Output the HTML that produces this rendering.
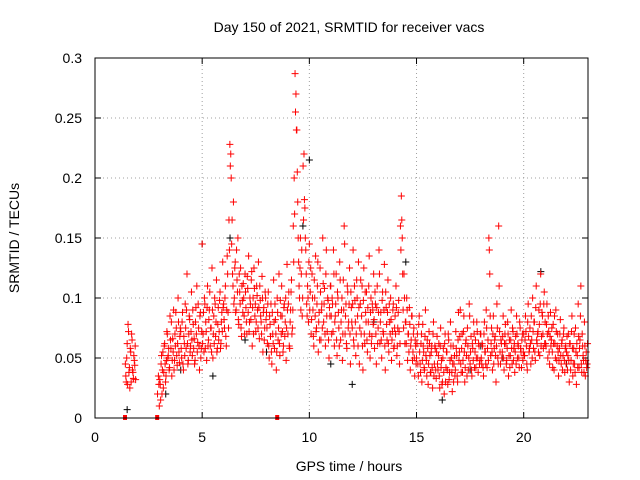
<!DOCTYPE html>
<html><head><meta charset="utf-8"><style>
body{margin:0;background:#fff}
svg{display:block;font-family:"Liberation Sans",sans-serif}
</style></head><body>
<svg id="chart" width="640" height="480" xmlns="http://www.w3.org/2000/svg">
<text x="349" y="32" text-anchor="middle" font-size="14">Day 150 of 2021, SRMTID for receiver vacs</text>
<text x="349" y="471" text-anchor="middle" font-size="14">GPS time / hours</text>
<text x="0" y="0" transform="translate(19,238) rotate(-90)" text-anchor="middle" font-size="14">SRMTID / TECUs</text>
<g id="grid"></g>
<g id="axes"></g>
<g id="marks"></g>
<rect x="95" y="58" width="493" height="360" fill="none" stroke="#000" stroke-width="1"/>
</svg>
<script>
const xTicks=[0,5,10,15,20];
const yTicks=[0,0.05,0.1,0.15,0.2,0.25,0.3];
const yTickLabels=["0","0.05","0.1","0.15","0.2","0.25","0.3"];
const samplesPerHour=24;
// red series A: SRMTID in milli-TECU, one row per hour, sampled every 2.5 min
const redRows={
1:[null,null,null,null,null,null,null,null,null,null,45,30,62,78,38,25,55,70,40,33,48,60,null,null],
2:[null,null,null,null,null,null,null,null,null,null,null,null,null,null,null,null,null,null,null,null,null,null,20,35],
3:[10,28,45,20,55,38,62,30,48,70,52,40,85,58,35,66,90,48,60,75,44,100,55,68],
4:[72,50,88,40,62,95,58,120,45,70,82,60,105,52,78,66,48,92,110,63,75,40,88,58],
5:[145,70,55,95,80,48,110,65,90,60,75,125,50,85,100,68,115,58,92,72,105,62,88,130],
6:[95,75,110,60,135,88,165,228,220,145,120,180,100,130,90,115,150,78,105,125,68,98,112,85],
7:[120,92,70,108,135,80,95,115,60,100,125,85,72,110,90,130,66,98,80,118,55,92,75,100],
8:[88,62,105,50,78,95,45,70,115,58,82,40,100,65,120,52,85,110,72,60,95,80,48,128],
9:[70,105,58,90,115,75,160,200,287,270,240,180,130,100,150,120,85,210,220,175,140,95,110,80],
10:[145,105,70,120,90,60,100,135,75,110,55,88,125,65,95,150,80,108,60,140,72,98,50,85],
11:[110,70,95,140,60,85,120,52,100,75,130,65,90,48,115,160,70,95,58,105,80,125,45,92],
12:[75,140,60,98,52,115,85,130,45,95,70,110,40,125,62,88,105,55,80,135,50,100,68,90],
13:[120,58,95,45,110,75,140,62,88,50,105,70,128,40,92,65,115,55,80,100,48,72,95,60],
14:[85,110,52,75,98,45,160,185,150,90,120,62,80,100,48,70,92,40,65,85,55,75,35,60],
15:[50,70,35,85,45,62,30,78,55,40,90,48,65,28,72,52,38,60,25,80,45,58,33,68],
16:[40,62,25,75,48,30,58,20,70,42,55,28,65,38,80,50,22,60,45,35,72,52,30,88],
17:[55,90,38,70,48,85,30,62,52,75,40,95,45,68,35,58,80,42,65,50,72,38,60,48],
18:[70,45,60,35,80,55,90,42,65,150,120,52,75,40,85,58,68,30,95,50,160,72,45,62],
19:[55,85,40,70,62,48,80,35,65,52,90,45,72,58,38,68,85,50,60,42,75,55,65,48],
20:[70,52,85,60,40,95,55,75,45,65,100,58,80,48,110,62,72,90,52,120,68,85,58,105],
21:[80,60,95,50,72,45,88,65,55,78,40,62,90,48,70,35,58,82,45,65,52,75,38,60],
22:[55,40,70,30,62,48,85,35,58,45,75,28,52,95,42,65,110,38,60,48,80,35,55,45]
};
// red series B: interleaved samples (offset by half a step)
const redRowsB={
1:[null,null,null,null,null,null,null,null,null,null,35,50,28,72,42,58,30,65,38,52,44,32,null,null],
2:[null,null,null,null,null,null,null,null,null,null,null,null,null,null,null,null,null,null,null,null,null,null,null,28],
3:[32,15,52,40,25,60,45,35,72,50,58,42,65,80,48,55,40,70,88,52,62,80,46,75],
4:[58,80,45,68,52,75,90,62,48,85,55,72,65,90,58,45,80,70,55,95,60,85,50,72],
5:[62,88,100,58,72,92,60,82,105,75,55,90,70,62,95,80,55,78,65,98,58,80,72,92],
6:[82,100,68,90,120,75,140,210,200,165,110,95,125,88,140,105,82,120,95,75,110,88,100,70],
7:[105,80,118,88,72,100,82,122,92,70,108,95,80,102,75,92,110,85,70,100,88,65,105,82],
8:[75,95,60,85,68,55,88,62,80,95,70,55,88,75,62,98,70,85,55,92,68,100,75,90],
9:[95,60,80,105,70,90,130,170,255,240,205,150,110,125,90,140,100,165,182,150,120,85,100,130],
10:[90,125,82,100,68,115,85,72,95,130,80,65,105,90,75,112,95,70,120,85,100,65,92,110],
11:[85,100,72,120,80,95,65,105,88,60,115,80,100,70,90,145,85,62,110,75,95,70,105,80],
12:[95,65,110,80,70,100,60,92,75,115,85,60,98,70,105,80,65,92,110,70,88,62,95,78],
13:[82,105,70,92,62,88,120,80,65,98,72,90,60,105,78,88,62,95,70,82,65,90,58,75],
14:[70,92,60,88,72,62,140,165,120,75,100,80,62,90,70,55,78,60,85,48,70,50,65,45],
15:[62,45,78,55,38,70,48,60,42,68,52,35,58,45,62,38,55,42,70,35,60,40,55,45],
16:[52,35,60,42,28,50,38,62,30,55,40,70,32,48,60,38,45,30,52,40,58,35,65,48],
17:[68,45,58,38,72,55,42,65,35,60,50,85,55,40,62,48,70,55,42,80,50,62,45,70],
18:[50,62,42,70,55,45,75,58,48,140,85,62,55,70,45,65,52,60,75,45,110,55,65,50],
19:[68,50,62,78,45,58,70,52,42,65,58,75,48,62,55,45,70,62,50,80,58,42,70,55],
20:[52,65,72,45,80,68,58,62,85,50,72,80,55,92,65,70,55,78,95,60,88,70,95,62],
21:[62,78,70,85,55,68,60,75,42,62,85,50,72,60,55,48,70,52,62,40,70,48,58,45],
22:[68,52,48,62,40,72,58,45,70,38,55,62,42,68,58,85,45,70,52,38,60,48,42,62]
};
const blackTimes=[1.5,3.3,5,6.3,9.7,10,11,12,14.5,20.8,16.2,17.5,8,7,13,19,22,4,5.5,18];
const blackValues=[7,20,145,150,160,215,45,28,130,122,15,40,55,65,80,50,45,40,35,60];
const zeroTimes=[1.4,2.9,8.5];

const X0=95,X1=588,Y0=418,Y1=58,XMAX=23,YMAX=0.3;
const sx=t=>X0+t/XMAX*(X1-X0);
const sy=v=>Y0-v/YMAX*(Y0-Y1);
const NS="http://www.w3.org/2000/svg";
function mk(tag,attrs,parent){const e=document.createElementNS(NS,tag);for(const k in attrs)e.setAttribute(k,attrs[k]);parent.appendChild(e);return e;}
const grid=document.getElementById('grid'),axes=document.getElementById('axes'),marks=document.getElementById('marks');
xTicks.forEach(t=>{const x=sx(t);
 if(t>0){const g=mk('line',{x1:x,x2:x,y1:Y0,y2:Y1,stroke:'#a0a0a0','stroke-dasharray':'1,3'},grid);
 }
 mk('line',{x1:x,x2:x,y1:Y0,y2:Y0-6,stroke:'#000'},axes);mk('line',{x1:x,x2:x,y1:Y1,y2:Y1+6,stroke:'#000'},axes);
 const l=mk('text',{x:x,y:Y0+24,'text-anchor':'middle','font-size':14},axes);l.textContent=t;
 });
yTicks.forEach((v,i)=>{const y=sy(v);
 if(v>0&&v<YMAX){const g=mk('line',{x1:X0,x2:X1,y1:y,y2:y,stroke:'#a0a0a0','stroke-dasharray':'1,3'},grid);
 }
 mk('line',{x1:X0,x2:X0+6,y1:y,y2:y,stroke:'#000'},axes);mk('line',{x1:X1,x2:X1-6,y1:y,y2:y,stroke:'#000'},axes);
 const l=mk('text',{x:X0-13,y:y+5,'text-anchor':'end','font-size':14},axes);l.textContent=yTickLabels[i];
 });
function plus(t,v,color,name){const x=sx(t),y=sy(v);
 const p=mk('path',{d:`M${x-3.5},${y}h7M${x},${y-3.5}v7`,stroke:color,'stroke-width':1,fill:'none'},marks);
 
 }
blackTimes.forEach((t,i)=>plus(t,blackValues[i]/1000,'#000','black-point'));
Object.keys(redRows).forEach(h=>{redRows[h].forEach((v,i)=>{if(v===null)return;plus(+h+i/samplesPerHour,v/1000,'#ff0000','red-point');});});
Object.keys(redRowsB).forEach(h=>{redRowsB[h].forEach((v,i)=>{if(v===null)return;plus(+h+(i+0.5)/samplesPerHour,v/1000,'#ff0000','red-point');});});
zeroTimes.forEach(t=>{const r=mk('rect',{x:sx(t)-2,y:Y0-3,width:4,height:5,fill:'#ff0000'},marks);
 
 });
</script>
</body></html>
